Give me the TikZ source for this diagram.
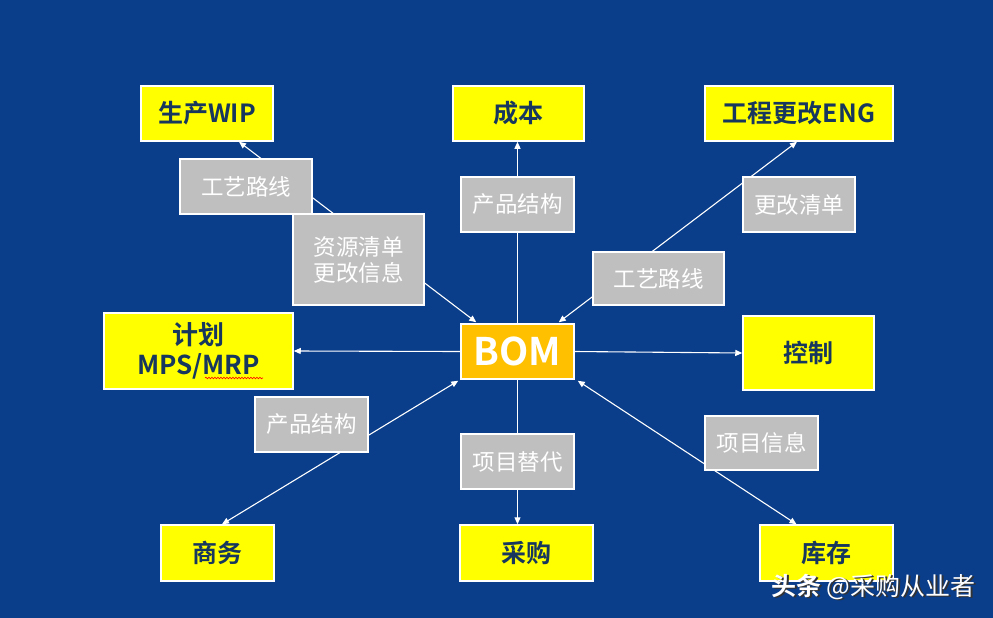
\documentclass[tikz,border=0pt]{standalone}
\usepackage{fontspec}
\setmainfont{Noto Sans CJK SC}[BoldFont=* Bold]
\usetikzlibrary{arrows.meta,decorations.pathmorphing}
\definecolor{bgblue}{RGB}{10,61,138}
\definecolor{ybox}{RGB}{255,255,0}
\definecolor{navy}{RGB}{23,55,94}
\definecolor{gbox}{RGB}{191,191,191}
\definecolor{obox}{RGB}{255,192,0}
\pgfdeclarelayer{back}
\pgfdeclarelayer{lines}
\pgfsetlayers{back,lines,main}
\tikzset{
  yellowbox/.style={draw=white, line width=1.5pt, fill=ybox, inner sep=0pt,
    text=navy, font=\fontsize{25}{30}\selectfont\bfseries, align=center},
  graybox/.style={draw=white, line width=1.2pt, fill=gbox, inner sep=0pt,
    text=white, font=\fontsize{22.5}{26}\selectfont, align=center},
  bombox/.style={draw=white, line width=1.5pt, fill=obox, inner sep=0pt,
    text=white, font=\fontsize{38}{40}\selectfont\bfseries},
  conn/.style={draw=white, line width=1.1pt},
  tip/.style={-{Triangle[length=7pt,width=6pt]}},
  tips/.style={{Triangle[length=7pt,width=6pt]}-{Triangle[length=7pt,width=6pt]}}
}
\begin{document}
\begin{tikzpicture}[x=1pt,y=-1pt]
\begin{pgfonlayer}{back}
\fill[bgblue] (0,0) rectangle (993,618);
\end{pgfonlayer}
\useasboundingbox (0,0) rectangle (993,618);

% main boxes
\node[yellowbox, minimum width=132, minimum height=55] (wip) at (207,113.5) {生产WIP};
\node[yellowbox, minimum width=131, minimum height=55] (cost) at (518.5,113.5) {成本};
\node[yellowbox, minimum width=188, minimum height=55] (eng) at (799,113.5) {工程更改ENG};
\node[yellowbox, minimum width=189, minimum height=76, font=\fontsize{26}{30}\selectfont\bfseries] (plan) at (198.5,351) {计划\\MPS/MRP};
\node[bombox, minimum width=113, minimum height=55] (bom) at (517.5,351.5) {BOM};
\node[yellowbox, minimum width=131, minimum height=74] (ctrl) at (808.5,353) {控制};
\node[yellowbox, minimum width=113, minimum height=56] (biz) at (217.5,553) {商务};
\node[yellowbox, minimum width=133, minimum height=56] (buy) at (526.5,553) {采购};
\node[yellowbox, minimum width=133, minimum height=56] (inv) at (826.5,553) {库存};

% label boxes
\node[graybox, minimum width=132, minimum height=55] (g1) at (246,186.5) {工艺路线};
\node[graybox, minimum width=131, minimum height=91] (g2) at (358.5,259.5) {资源清单\\更改信息};
\node[graybox, minimum width=113, minimum height=55] (g3) at (517.5,204.5) {产品结构};
\node[graybox, minimum width=112, minimum height=55] (g4) at (799,204.5) {更改清单};
\node[graybox, minimum width=131, minimum height=53] (g5) at (658.5,278.5) {工艺路线};
\node[graybox, minimum width=113, minimum height=55] (g6) at (311.5,424.5) {产品结构};
\node[graybox, minimum width=113, minimum height=55] (g7) at (517.5,461.5) {项目替代};
\node[graybox, minimum width=113, minimum height=54] (g8) at (761.5,443) {项目信息};

% connectors
\begin{pgfonlayer}{lines}
\draw[conn,tips] ([xshift=16pt,yshift=1pt]bom.north west) -- ([xshift=32pt]wip.south);
\draw[conn,tip] (bom.north) -- ([xshift=-1pt]cost.south);
\draw[conn,tips] ([xshift=-16pt,yshift=1pt]bom.north east) -- ([xshift=-2pt]eng.south);
\draw[conn,tip] (bom.west) -- (plan.east);
\draw[conn,tip] (bom.east) -- (ctrl.west);
\draw[conn,tips] ([xshift=-2pt,yshift=-1pt]bom.south west) -- ([xshift=4.5pt]biz.north);
\draw[conn,tip] (bom.south) -- ([xshift=-9pt]buy.north);
\draw[conn,tips] ([xshift=3pt,yshift=-1pt]bom.south east) -- ([xshift=-30pt]inv.north);
\end{pgfonlayer}

% spell-check underline
\draw[red, line width=0.6pt, decorate, decoration={snake, amplitude=0.8pt, segment length=3pt}] (205,378) -- (263,378);

% watermark
\node[anchor=west, text=black!80, font=\fontsize{25}{28}\selectfont] (wmshadow) at (769.5,588.5) {\textbf{头条} @采购从业者};
\node[anchor=west, text=white, font=\fontsize{25}{28}\selectfont] (wm) at (767.5,587) {\textbf{头条} @采购从业者};
\end{tikzpicture}
\end{document}
